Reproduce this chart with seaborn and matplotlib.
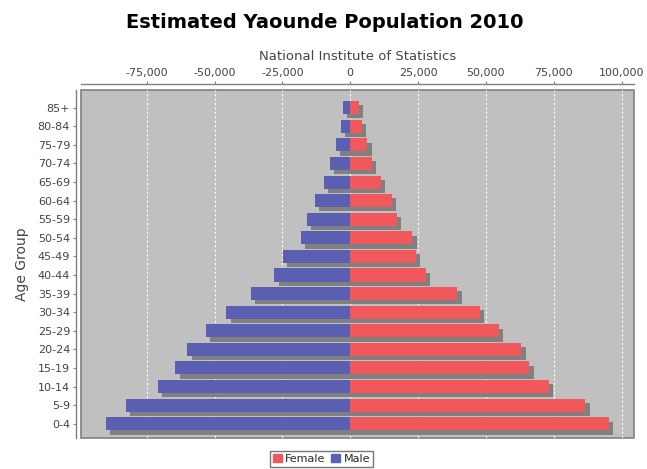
import numpy as np
import pandas as pd
import seaborn as sns
import matplotlib
matplotlib.use("Agg")
import matplotlib.pyplot as plt
import matplotlib.patheffects as pe
from matplotlib.patches import Patch
from matplotlib.ticker import FuncFormatter

# data
ages = ['85+', '80-84', '75-79', '70-74', '65-69', '60-64', '55-59', '50-54', '45-49',
        '40-44', '35-39', '30-34', '25-29', '20-24', '15-19', '10-14', '5-9', '0-4']
male = [2600, 3500, 5300, 7400, 9800, 13100, 15900, 18200, 24900,
        28000, 36700, 45600, 53200, 60000, 64500, 71000, 82600, 90100]
female = [3300, 4400, 6300, 8100, 11400, 15400, 17100, 22900, 24200,
          28000, 39500, 47800, 54800, 63100, 66000, 73300, 86700, 95400]

male_col = '#5A5FB2'
female_col = '#F0585C'

df = pd.DataFrame({'age': ages, 'male': -np.array(male), 'female': female})

sns.set_style('white')
plt.rcParams['font.family'] = ['DejaVu Sans']

fig = plt.figure(figsize=(6.47, 4.69), dpi=100)
ax = fig.add_axes([80.5/647, 1-437.7/469, (634.3-80.5)/647, (437.7-90)/469])
ax.set_facecolor('#C0C0C0')

shadow = [pe.SimplePatchShadow(offset=(3.1, -3.1), shadow_rgbFace='#808080', alpha=1), pe.Normal()]
sns.barplot(data=df, y='age', x='male', color=male_col, saturation=1, width=0.7, ax=ax, zorder=3)
sns.barplot(data=df, y='age', x='female', color=female_col, saturation=1, width=0.7, ax=ax, zorder=3)
for p in ax.patches:
    p.set_path_effects(shadow)
    p.set_edgecolor('none')

ax.set_xlim(-99400, 104700)
ax.set_ylim(17.75, -0.95)
ax.xaxis.tick_top()
ax.xaxis.set_label_position('top')
ax.set_xticks([-75000, -50000, -25000, 0, 25000, 50000, 75000, 100000])
ax.xaxis.set_major_formatter(FuncFormatter(lambda v, _: f'{int(v):,}'))
ax.grid(axis='x', color='white', linestyle=(0, (2, 2)), linewidth=0.8, zorder=0)
ax.set_axisbelow(True)

ax.patch.set_edgecolor('#808080')
ax.patch.set_linewidth(1.2)
for s in ['bottom', 'right']:
    ax.spines[s].set_visible(False)
ax.spines['top'].set_position(('outward', 4))
ax.spines['left'].set_position(('outward', 3))
for s in ['top', 'left']:
    ax.spines[s].set_color('#808080')
    ax.spines[s].set_linewidth(1)

ax.tick_params(axis='x', top=True, bottom=False, length=2.5, color='#808080', labelsize=8,
               labelcolor='#444444', pad=2)
ax.tick_params(axis='y', left=True, length=2.5, color='#808080', labelsize=8,
               labelcolor='#444444', pad=2)

ax.set_xlabel('National Institute of Statistics', fontsize=9.5, color='#444444', labelpad=6)
ax.set_ylabel('Age Group', fontsize=10, color='#444444', labelpad=6)

fig.text(0.502, 1-22/469, 'Estimated Yaounde Population 2010', ha='center', va='center',
         fontsize=14, fontweight='bold', color='black')

handles = [Patch(color=female_col, label='Female'), Patch(color=male_col, label='Male')]
fig.legend(handles=handles, loc='center', bbox_to_anchor=(0.497, 1-459/469), ncol=2,
           frameon=True, fancybox=False, edgecolor='#555555', fontsize=8,
           handlelength=0.8, handleheight=0.8, handletextpad=0.3, columnspacing=0.5,
           borderpad=0.25, borderaxespad=0)

fig.savefig('out.png', dpi=100)
